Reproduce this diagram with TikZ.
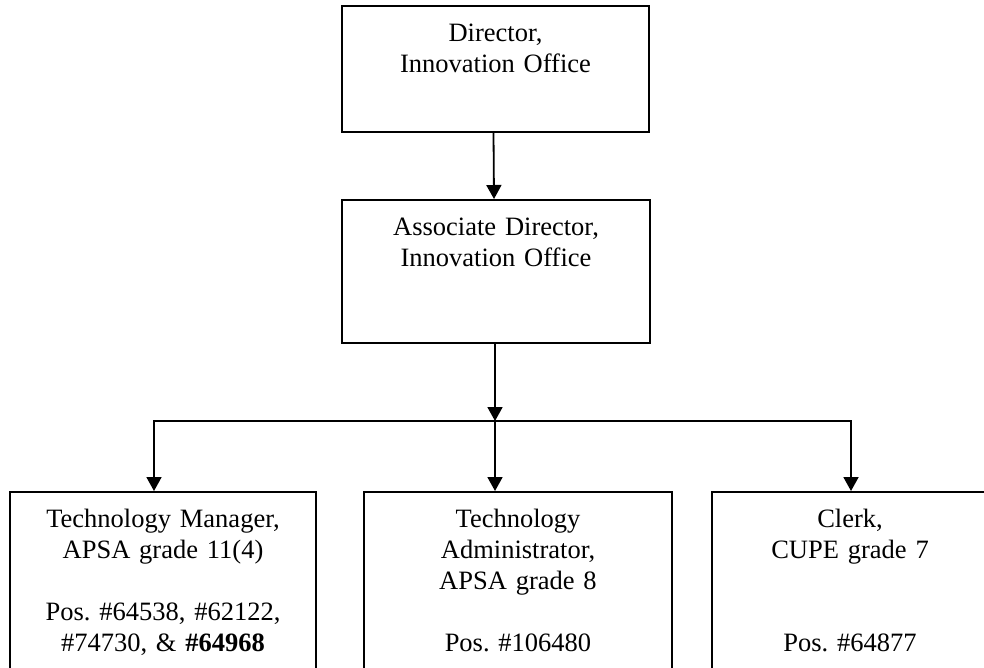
\documentclass[tikz,border=0pt]{standalone}
\usepackage{fontspec}
\setmainfont{Liberation Serif}
\usetikzlibrary{arrows.meta}
\frenchspacing
\begin{document}
\begin{tikzpicture}[x=1pt,y=-1pt,
  box/.style={draw,line width=2pt,anchor=north,inner xsep=0pt,inner ysep=0pt,align=center,
    font=\fontsize{26.5}{31}\selectfont,text height=35pt},
  arr/.style={line width=1.8pt,-{Triangle[width=15pt,length=14pt]}}]
\clip (0,0) rectangle (984,667);
\node[box,text width=307pt,text depth=91pt] (dir) at (495.5,5) {Director,\\Innovation Office};
\node[box,text width=308pt,text depth=108pt] (assoc) at (496,199) {Associate Director,\\Innovation Office};
\node[box,text width=306pt,text depth=200pt] (mgr) at (163,491) {Technology Manager,\\APSA grade 11(4)\\[31pt]Pos. \#64538, \#62122,\\\#74730, \& \textbf{\#64968}};
\node[box,text width=308pt,text depth=200pt] (tadm) at (518,491) {Technology\\Administrator,\\APSA grade 8\\[31pt]Pos. \#106480};
\node[box,text width=276pt,text depth=200pt] (clerk) at (850,491) {Clerk,\\CUPE grade 7\\[62pt]Pos. \#64877};
\coordinate (bus) at (495,421);
\draw[arr] ([xshift=-2pt]dir.south) -- ([xshift=-2pt]assoc.north);
\draw[arr] (assoc.south -| bus) -- (bus);
\draw[arr] (bus) -| ([xshift=-9pt]mgr.north);
\draw[arr] (bus) -- (bus |- tadm.north);
\draw[arr] (bus) -| ([xshift=1pt]clerk.north);
\end{tikzpicture}
\end{document}
